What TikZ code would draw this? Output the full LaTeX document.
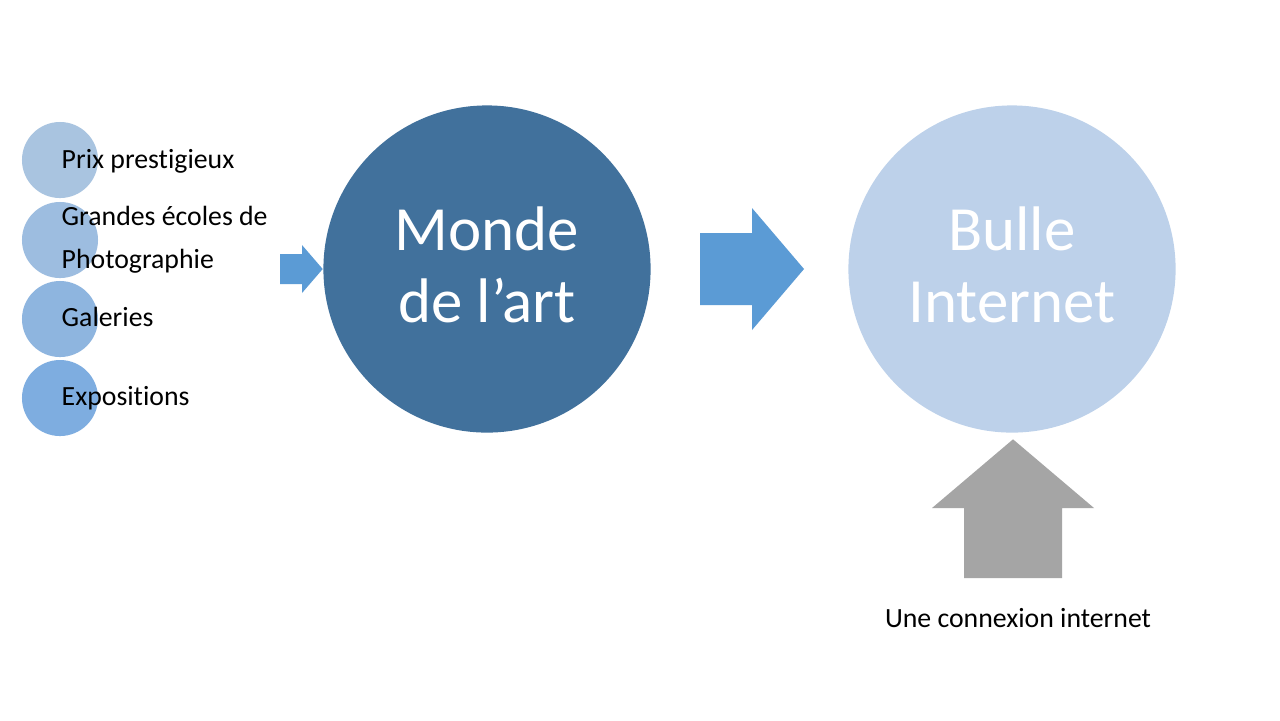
\documentclass[tikz,border=0pt]{standalone}
\usepackage{fontspec}
\setmainfont{Carlito}[Ligatures=NoCommon]
\usepackage{tikz}
\usetikzlibrary{calc}
\definecolor{BleuMonde}{RGB}{65,113,156}
\definecolor{BleuBulle}{RGB}{189,209,234}
\definecolor{BleuFleche}{RGB}{91,155,213}
\definecolor{GrisFleche}{RGB}{165,165,165}
\definecolor{BleuPrix}{RGB}{169,196,224}
\definecolor{BleuEcoles}{RGB}{157,189,224}
\definecolor{BleuGaleries}{RGB}{142,181,223}
\definecolor{BleuExpos}{RGB}{126,173,224}

\begin{document}
\begin{tikzpicture}[x=0.01cm,y=-0.01cm,
  petit/.style={circle,minimum size=0.76cm,inner sep=0pt},
  grand/.style={circle,minimum size=3.27cm,inner sep=0pt},
  grandtexte/.style={inner sep=0pt,align=center,text=white,
    font=\fontsize{17.9}{20.3}\selectfont},
  etiquette/.style={anchor=base west,inner sep=0pt,font=\fontsize{7.9}{9}\selectfont}]
  \fill[white] (0,0) rectangle (1280,720);
  \useasboundingbox (0,0) rectangle (1280,720);
  % petits cercles a gauche
  \node[petit,fill=BleuPrix] (prix) at (60,160) {};
  \node[petit,fill=BleuEcoles] (ecoles) at (60,240) {};
  \node[petit,fill=BleuGaleries] (galeries) at (60,319) {};
  \node[petit,fill=BleuExpos] (expos) at (60,398) {};
  \node[etiquette] (prixtxt) at (61,168) {Prix prestigieux};
  \node[etiquette] (ecolestxt) at (61,225) {Grandes écoles de};
  \node[etiquette] (phototxt) at (61,268) {Photographie};
  \node[etiquette] (galeriestxt) at (61,326) {Galeries};
  \node[etiquette] (expostxt) at (61,405) {Expositions};
  % les deux mondes
  \node[grand,fill=BleuMonde] (monde) at (487,269) {};
  \node[grand,fill=BleuBulle] (bulle) at (1012,269) {};
  \node[grandtexte] (mondetxt) at ($(monde)+(0,-4)$) {Monde\\de l’art};
  \node[grandtexte] (bulletxt) at ($(bulle)+(0,-4)$) {Bulle\\Internet};
  % fleches
  \fill[BleuFleche] (280,254) -- (302,254) -- (302,245) -- (monde.west)
    -- (302,293) -- (302,284) -- (280,284) -- cycle;
  \fill[BleuFleche] (700,233) -- (752,233) -- (752,208) -- (804,269)
    -- (752,330) -- (752,305) -- (700,305) -- cycle;
  \coordinate (pointe) at ($(bulle.south)+(1,6)$);
  \fill[GrisFleche] (pointe) -- (1094,508) -- (1062,508) -- (1062,578)
    -- (964,578) -- (964,508) -- (932,508) -- cycle;
  \node[anchor=base,inner sep=0pt,font=\fontsize{7.9}{9}\selectfont] (connexion)
    at (1018,627) {Une connexion internet};
\end{tikzpicture}
\end{document}
